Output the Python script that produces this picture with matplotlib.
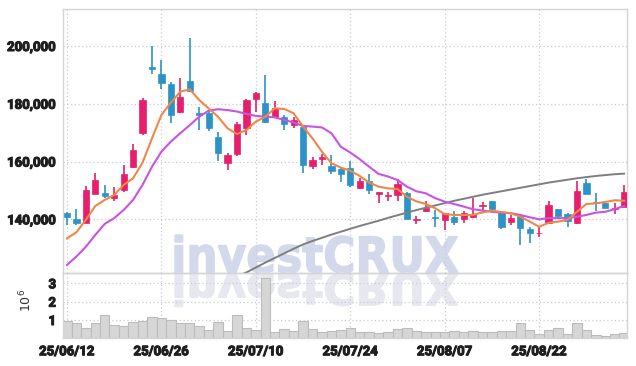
import matplotlib
matplotlib.use('Agg')
import matplotlib.pyplot as plt
import matplotlib.transforms as mtransforms
import matplotlib.patheffects as pe
from matplotlib.textpath import TextPath
from matplotlib.patches import PathPatch
from matplotlib.font_manager import FontProperties, fontManager
from matplotlib.ticker import FuncFormatter

# 캔들 데이터 (25/06/12 ~ 25/09/04, 60 거래일)
opens = [142300, 140100, 138800, 148900, 149100, 147300, 150100, 158200, 170000, 192700,
         190300, 186800, 177300, 187900, 176900, 176900, 168400, 159600, 162500, 171500,
         181500, 180200, 175300, 175300, 172800, 172100, 158500, 160900, 158500, 157500,
         157700, 150700, 153400, 148800, 148000, 148300, 149200, 139800, 142900, 140800,
         139800, 140900, 140000, 140700, 144500, 146300, 142500, 139200, 141100, 136800,
         135100, 138600, 143600, 141800, 138800, 152600, 145650, 145600, 143500, 144200]
highs = [142500, 143500, 151500, 155900, 151900, 151100, 158700, 166000, 181900, 200000,
         195200, 187400, 188800, 202700, 179000, 177800, 170300, 163100, 173800, 181700,
         184000, 190000, 181100, 176100, 175500, 172700, 161700, 162500, 162300, 158200,
         160300, 154200, 155600, 149600, 149600, 153900, 149600, 141300, 146300, 143200,
         142300, 143000, 143000, 147300, 146100, 146300, 142500, 141500, 141500, 137200,
         137400, 146200, 143600, 142100, 153300, 153900, 149200, 145800, 145500, 151800]
lows = [138000, 138000, 138700, 148800, 147300, 146300, 149600, 157700, 169100, 190200,
        185000, 173200, 176700, 184000, 170900, 170700, 160200, 157100, 162000, 169200,
        177300, 173500, 175000, 170900, 171700, 155900, 157400, 158800, 155600, 153000,
        151300, 150500, 148800, 145800, 146400, 146400, 140000, 138400, 142400, 137200,
        136300, 138000, 138600, 140600, 142100, 143000, 136800, 137900, 131100, 131700,
        134000, 138400, 140200, 137400, 138400, 148800, 142800, 143800, 141800, 144100]
closes = [140700, 138800, 150100, 153600, 148200, 148400, 155700, 164000, 181300, 192100,
          187300, 176100, 182300, 184300, 176200, 171700, 163100, 162200, 172900, 181300,
          183600, 173800, 178400, 172900, 174300, 158800, 160500, 161600, 156800, 155800,
          151900, 153400, 150100, 149600, 148100, 152200, 140100, 140200, 143800, 140400,
          142100, 139200, 142100, 141800, 144700, 143600, 137400, 140500, 137100, 135200,
          135200, 145000, 141100, 139500, 149800, 148900, 145550, 143800, 143900, 149500]

# 이동평균선
ma_short = [133400, 135500, 139800, 144600, 146700, 148400, 151900, 154200, 159600, 168000,
            176100, 180400, 184200, 185000, 181300, 178400, 175500, 171500, 169500, 170900,
            173800, 175500, 178400, 178200, 176700, 172100, 168000, 163400, 159400, 157900,
            156800, 155000, 152700, 151300, 150700, 150500, 147800, 146200, 145300, 143800,
            141800, 141500, 141500, 141500, 142400, 143000, 142500, 142100, 140900, 139200,
            137400, 138800, 139200, 139800, 142600, 145300, 145500, 146000, 146600, 146400]
ma_mid = [124200, 127100, 130500, 134600, 138400, 140400, 143200, 146700, 151900, 158200,
          163400, 166900, 169800, 172600, 175500, 177600, 178100, 177800, 177300, 176500,
          175800, 175500, 175300, 174400, 173500, 172300, 172100, 171800, 169800, 165100,
          163100, 160800, 158200, 155700, 154800, 153600, 151300, 149700, 149000, 147300,
          146100, 145300, 144400, 143500, 143000, 142600, 142300, 142100, 141500, 140700,
          140000, 140400, 140400, 140400, 140900, 141500, 142300, 142600, 143500, 144600]
ma_long = [None] * 18 + [
          120200, 121600, 123300, 125000, 126600, 128200, 129800, 131300, 132500, 133600,
          134700, 135700, 136700, 137700, 138600, 139500, 140500, 141400, 142300, 143200,
          144000, 144800, 145600, 146400, 147100, 147800, 148500, 149100, 149700, 150300,
          150900, 151500, 152100, 152700, 153200, 153700, 154200, 154600, 155000, 155300,
          155600, 155800]

# 거래량 (단위: 10^6)
volume = [0.94, 0.82, 0.55, 0.82, 1.25, 0.73, 0.67, 0.87, 0.94, 1.18,
          1.13, 1.00, 0.82, 0.82, 0.67, 0.44, 0.87, 0.38, 1.25, 0.55,
          0.44, 3.27, 0.35, 0.49, 0.40, 0.94, 0.49, 0.36, 0.40, 0.45,
          0.55, 0.36, 0.33, 0.29, 0.35, 0.49, 0.55, 0.42, 0.35, 0.35,
          0.35, 0.40, 0.35, 0.38, 0.35, 0.35, 0.38, 0.38, 0.82, 0.44,
          0.24, 0.44, 0.55, 0.24, 0.82, 0.44, 0.18, 0.15, 0.24, 0.29]

tick_idx = [0, 10, 20, 30, 40, 50]
tick_labels = ['25/06/12', '25/06/26', '25/07/10', '25/07/24', '25/08/07', '25/08/22']
price_ticks = [140000, 160000, 180000, 200000]
vol_ticks = [1, 2, 3]

UP = '#e61e6b'
DOWN = '#2d93c6'
GRID = '#c9cbd9'
SPINE = '#d4d4d8'

names = {f.name for f in fontManager.ttflist}
tick_font = 'Roboto' if 'Roboto' in names else 'DejaVu Sans'

W, H = 636, 366
fig = plt.figure(figsize=(W / 100, H / 100), dpi=100)
ax = fig.add_axes([63 / W, 1 - 272.5 / H, (627 - 63) / W, (272.5 - 9) / H])
axv = fig.add_axes([63 / W, 1 - 338.3 / H, (627 - 63) / W, (338.3 - 272.5) / H], sharex=ax)

n = len(closes)
x = list(range(n))

# 워터마크 (뒤집힌 반사 포함)
tp = TextPath((0, 0), 'investCRUX', size=100, prop=FontProperties(family='DejaVu Sans', weight='bold'))
bb = tp.get_extents()
x0, x1, ytop, ybase = 175, 458, 235, 272.5
sx = (x1 - x0) / bb.width / W
sy = (ybase - ytop) / bb.y1 / H
tr = mtransforms.Affine2D().translate(-bb.x0, 0).scale(sx, sy).translate(x0 / W, 1 - ybase / H)
fig.add_artist(PathPatch(tp, transform=tr + fig.transFigure, fc='#d3d9ea', ec='#d3d9ea', lw=1.0, zorder=-1))
tr2 = mtransforms.Affine2D().translate(-bb.x0, 0).scale(sx, -sy * 0.88).translate(x0 / W, 1 - 273.5 / H)
fig.add_artist(PathPatch(tp, transform=tr2 + fig.transFigure, fc='#e7e8ef', ec='#e7e8ef', lw=1.0, zorder=-1))

for a in (ax, axv):
    a.set_facecolor('none')
    for s in a.spines.values():
        s.set_color(SPINE)
        s.set_linewidth(1)
    a.grid(True, linestyle=(0, (1, 2)), color=GRID, linewidth=0.9)
    a.tick_params(length=0, pad=5, labelsize=9.5, colors='#1e1e1e')

# 캔들
colors = [UP if c >= o else DOWN for o, c in zip(opens, closes)]
ax.vlines(x, lows, highs, colors=colors, linewidth=1.2, zorder=3)
bottoms = [min(o, c) for o, c in zip(opens, closes)]
heights = [max(abs(c - o), 300) for o, c in zip(opens, closes)]
ax.bar(x, heights, bottom=bottoms, width=0.66, color=colors, edgecolor=colors, linewidth=0.5, zorder=4)

ax.plot(x, ma_long, color='#7f7f7f', linewidth=1.4, zorder=5)
ax.plot(x, ma_mid, color='#c853e6', linewidth=1.5, zorder=5)
ax.plot(x, ma_short, color='#ef8748', linewidth=1.5, zorder=5)

ax.set_ylim(121580, 212800)
ax.set_yticks(price_ticks)
ax.yaxis.set_major_formatter(FuncFormatter(lambda v, p: f'{int(v):,}'))
ax.set_xlim(-0.42, 59.3)
ax.set_xticks(tick_idx)
ax.tick_params(axis='x', labelbottom=False)

# 거래량
axv.set_axisbelow(True)
axv.bar(x, volume, width=1.0, color='#d6d6d6', edgecolor='#bcbcbc', linewidth=0.8)
axv.set_ylim(0, 3.59)
axv.set_yticks(vol_ticks)
axv.set_yticklabels([str(v) for v in vol_ticks])
axv.set_xticks(tick_idx)
axv.set_xticklabels(tick_labels)
axv.set_ylabel('$10^6$', fontsize=9, color='#333333')
axv.yaxis.set_label_coords(-0.051, 0.57)

# 굵은 눈금 글자 (외곽선으로 두께 보정)
bold = [pe.withStroke(linewidth=0.8, foreground='#1e1e1e')]
for a in (ax, axv):
    for lab in a.get_xticklabels() + a.get_yticklabels():
        lab.set_fontfamily(tick_font)
        lab.set_fontweight('bold')
        lab.set_path_effects(bold)

fig.savefig('out.png', dpi=100)
